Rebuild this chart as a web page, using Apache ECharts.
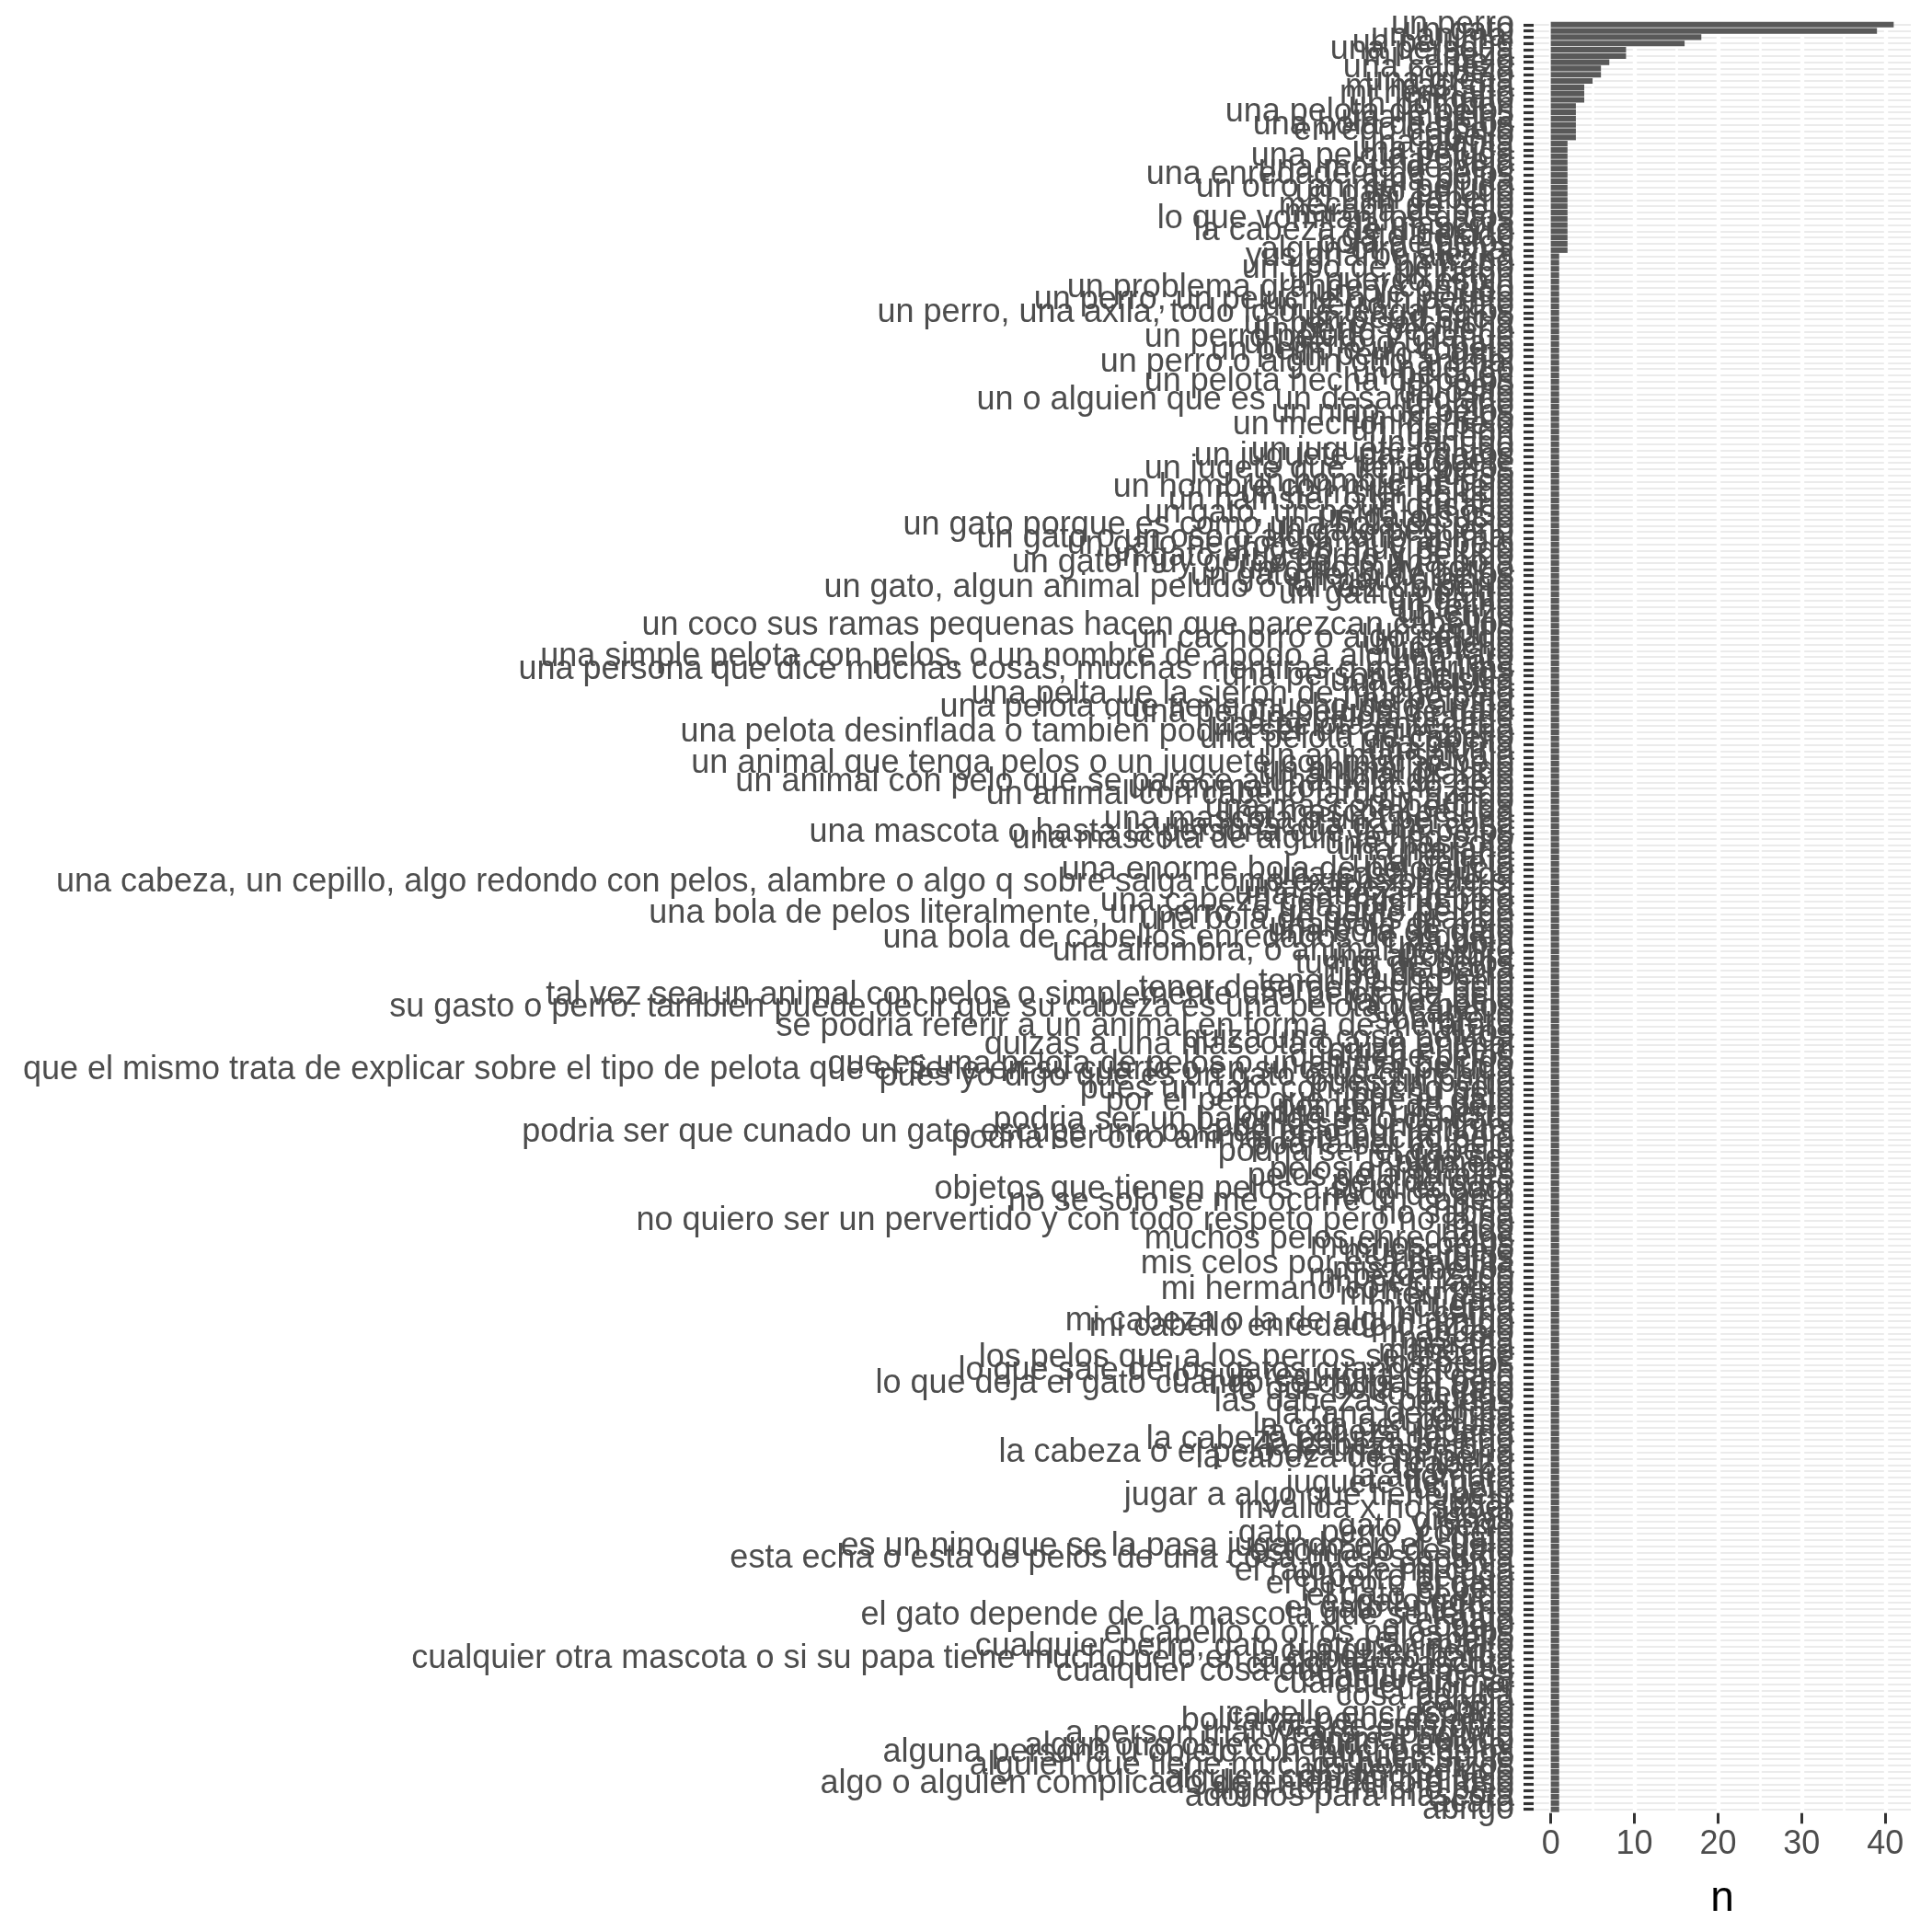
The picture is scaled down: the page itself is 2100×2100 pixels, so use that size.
<!DOCTYPE html>
<html>
<head>
<meta charset="utf-8">
<script src="https://cdn.jsdelivr.net/npm/echarts@6/dist/echarts.min.js"></script>
<style>
html,body{margin:0;padding:0;background:#fff;}
#chart{width:2100px;height:2100px;}
</style>
</head>
<body>
<div id="chart"></div>
<script>
// categories, top to bottom
const categories = [
// 1-10
"un perro","un gato","un animal","un peluche","una persona","mi cabeza","pelo","una cabeza","mi pelo","una grena",
// 11-20
"mi mascota","mi hermano","mi gato","un pompon","una pelota de pelos","una melena","una bola de pelos","enredo de pelo","cabello","una planta",
// 21-30
"una peluca","una pelota peluda","una oveja","una mota de pelo","una enredadera de pelos","una bolita","un otro animal peludo","un gato peludo","mi cabello","mechon de pelo",
// 31-40
"marana de pelo","lo que vomitan los gatos","la mascota","la cabeza de un perro","gato peludo","bola de pelos","algun otro animal","yus gnarbe alexka","un trapo","un tipo de peinado",
// 41-50
"un raton","un puerco espin","un problema grande y confuso","un pie peludo","un perro, un peluche o un perrito","un perro, un gato","un perro, una axila, todo lo que tenga pelos","un perro sucio","un perro salchicha","un perro pequeno",
// 51-60
"un perro peludo y grande","un perro o un gato","un perro o un conejo","un perro o gato","un perro o algun otro animal","un perico","un pelucon","un pelota hecha de pelos","un pelo","un osito",
// 61-70
"un o alguien que es un desarreglado","un nino","un nido de pelos","un muneco","un mechon de pelo","un mechon","un leon","un lanudo","un juguete peludo","un juguete para gatos",
// 71-80
"un juguete","un jugete que tiene pelos","un hueso","un hombre peludo","un hombre con mucho pelo","un hamster peludo","un hamster o un conejo","un gusano","un gato, un perro, un oso","un gato sucio",
// 81-90
"un gato porque es como una bola de pelo","un gato pequeno","un gato o un oso o algun otro animal","un gato negro con mucho pelo","un gato muy peludo","un gato muy gordo y peludo","un gato muy gordo como una bola","un gato muy gordo","un gato lleno de pelos","un gato grande",
// 91-100
"un gato, algun animal peludo o tal vez un perro","un gatito peludo","un gatito","un felino","un erizo","un cojin","un coco sus ramas pequenas hacen que parezcan cabellos","un cepillo","un cachorro o algo peludo","un cabello",
// 101-110
"un bicho","una simple pelota con pelos, o un nombre de apodo a alguien raro","una rata","una persona que dice muchas cosas, muchas mentiras o mentirillas","una persona peluda","una pelusilla","una pelusa","una pelta ue la sieron de mucho pelo","una pelotita","una pelota que tiene mucho pelo arriba",
// 111-120
"una pelota peluda de gato","una pelota grande","una pelota enredada","una pelota desinflada o tambien podria ser un animal feo","una pelota de cabello","una pelota","una nutria","un animal salvaje","un animal que tenga pelos o un juguete con mucho pelo","un animal peludo",
// 121-130
"un animal grande","un animal con pelo que se parece a una bola de pelo","un animal con mucho pelo","un animal con cabello largo y rizado","un amigo","una mascota perdida","una mascota peluda","una mascota o una persona","una mascota o una cosa","una mascota o hasta la persona que tiene pelos",
// 131-140
"una mascota de algun vecino o tio","una mascota","una marana","una lana","una galleta","una enorme bola de pelo sucio","una cosa peluda","una cabeza, un cepillo, algo redondo con pelos, alambre o algo q sobre salga como extension de si","una cabeza rizada","una cabeza peluda",
// 141-150
"una cabeza con mucho pelo","una bola peluda","una bola de pelos literalmente, un perro, o un gatito peludo","una bola de pelos grande","una bola de pelo","una bola de gato","una bola de cabellos enredados de alguien","una bola","una alfombra, o animal peludito","una alfombra",
// 151-160
"tumor de pelos","tu mascota","tipo de perro","tener mucho pelo","tener desorden en el pelo","tal vez sea un animal con pelos o simplemente una pelota de pelo","tal vez pelo","su gasto o perro. tambien puede decir que su cabeza es una pelota de pelos","su cabello","sombrero",
// 161-170
"se podria referir a un animal en forma de metafora","rizos","quiza una cosa peluda","quizas a una mascota o a un animal","quiza el pelo","que tiene pelos","que es una pelota de pelos o un animal peludo","que el mismo trata de explicar sobre el tipo de pelota que el tiene en su cuarto o en su cabeza peluda","pues yo digo que es un gato o un chinchilla","pues un perro",
// 171-180
"pues un gato con mucho pelo","por su pelo","por el pelo que tiene el gato","pompon de pelo","podria ser un perro","podria ser un balon de pelo de gato","podria ser un animal","podria ser que cunado un gato escupe una bola de pelo por la boca","podria ser otro animal con mucho pelo","podria ser mi pelo",
// 181-190
"podria ser el cabello","podria ser","plumero","pelos enredados","pelos de animales","pelo de gato","objetos que tienen pelos a su alrededor","nudo de pelo","no se solo se me ocurre un conejo","no se",
// 191-200
"no sabria","no quiero ser un pervertido y con todo respeto pero no lo se","nido","nada","muchos pelos enredados","muchos pelos","mucho pelo","mis rulos","mis celos por esa pelotita","mis cabellos",
// 201-210
"mi pelo rizado","mi pelo largo","mi hermano con su pelo","mi hermana","mi gata","mi cuerpo","mi cama","mi cabeza o la de algun amigo","mi cabello enredado o rizado","mi abuelo",
// 211-220
"mascota","marana","mapache","los pelos que a los perros se les cae","los pelos","lo que sale de los gatos cuando tosen","lo que regurgita un gato","lo que deja el gato cuando se chupa el pelo","lo que bota un gato","lo peludo",
// 221-230
"las cabezas peludas","la rata","la rana de goma","la pelusa","la cola de un gato","la cabeza rapada","la cabeza peluda de algo","la cabeza pelona","la cabeza o el pelo de una persona","la cabeza de mi perro",
// 231-240
"la cabeza","la barba","la alfombra","juguete de gato","juguete","jugar a algo que tiene pelo","jugar","invalida x no saber","huevo","grenas",
// 241-250
"gato y perro","gato, perro, conejo","gato","es un nino que se la pasa jugando en el suelo","estomago de gato","esta echa o esta de pelos de una cosa que es peluda","esponja","el raton de mi casa","el perro peludo","el perro o el gato",
// 251-260
"el pelo","el gato peludo","el gato gordo","el gato enfermo","el gato depende de la mascota que se tenga","el gato","el conejo","el cabello o otros pelos feos","el cabello","cualquier perro, gato u otro animalito",
// 261-270
"cualquier pelota","cualquier otra mascota o si su papa tiene mucho pelo en la cabeza o barba","cualquier mascota","cualquier cosa que tenga pelos","cualquier cosa","cualquier animal","cualquier","cosa peluda","conejo","cepillo",
// 271-280
"cabello encrespado","bolita de pelos de gato","bola de estambre","a person that wears a long wig","animal peludo","algun otro objeto peludo o animal","alguna persona u objeto con muchos pelos","alguien sucio","alguien que tiene muchos pelos rizos","alguien peludo",
// 281-286
"alguien con mucho pelo","algo o alguien complicado de entender o difuso","algo con mucho pelo","adornos para mascota","acaro","abrigo"
];

// n per category, same order
const counts = [
41,39,18,16,9,9,7,6,6,5,
4,4,4,3,3,3,3,3,3,2,
2,2,2,2,2,2,2,2,2,2,
2,2,2,2,2,2,2,1,1,1,
1,1,1,1,1,1,1,1,1,1, // 41-50
1,1,1,1,1,1,1,1,1,1, // 51-60
1,1,1,1,1,1,1,1,1,1, // 61-70
1,1,1,1,1,1,1,1,1,1, // 71-80
1,1,1,1,1,1,1,1,1,1, // 81-90
1,1,1,1,1,1,1,1,1,1, // 91-100
1,1,1,1,1,1,1,1,1,1, // 101-110
1,1,1,1,1,1,1,1,1,1, // 111-120
1,1,1,1,1,1,1,1,1,1, // 121-130
1,1,1,1,1,1,1,1,1,1, // 131-140
1,1,1,1,1,1,1,1,1,1, // 141-150
1,1,1,1,1,1,1,1,1,1, // 151-160
1,1,1,1,1,1,1,1,1,1, // 161-170
1,1,1,1,1,1,1,1,1,1, // 171-180
1,1,1,1,1,1,1,1,1,1, // 181-190
1,1,1,1,1,1,1,1,1,1, // 191-200
1,1,1,1,1,1,1,1,1,1, // 201-210
1,1,1,1,1,1,1,1,1,1, // 211-220
1,1,1,1,1,1,1,1,1,1, // 221-230
1,1,1,1,1,1,1,1,1,1, // 231-240
1,1,1,1,1,1,1,1,1,1, // 241-250
1,1,1,1,1,1,1,1,1,1, // 251-260
1,1,1,1,1,1,1,1,1,1, // 261-270
1,1,1,1,1,1,1,1,1,1, // 271-280
1,1,1,1,1,1          // 281-286
];

const xTicks = [0, 10, 20, 30, 40];
const xMajorStep = 10;

// layout
const W = 2100, H = 2100;
const FONT = "'Liberation Sans', Arial, Helvetica, sans-serif";
const panelLeft = 1667, panelRight = 2077, panelTop = 22.7, panelBottom = 1970.7;
const xMin = -2.05, xMax = 43.05;
const N = categories.length;
const step = (panelBottom - panelTop) / (N + 0.2);
const barGridTop = panelTop + 0.1 * step;
const barGridHeight = N * step;
const pxPerUnit = (panelRight - panelLeft) / (xMax - xMin);
const x0px = panelLeft + (0 - xMin) * pxPerUnit;
const x40px = panelLeft + (xTicks[xTicks.length - 1] - xMin) * pxPerUnit;

const chart = echarts.init(document.getElementById('chart'), null, {renderer: 'canvas', width: W, height: H});

chart.setOption({
  backgroundColor: '#ffffff',
  animation: false,
  grid: [
    {left: panelLeft, right: W - panelRight, top: barGridTop, height: barGridHeight, containLabel: false},
    {left: x0px, right: W - x40px, top: panelTop, bottom: H - panelBottom, containLabel: false}
  ],
  xAxis: [
    {
      gridIndex: 0, type: 'value', min: xMin, max: xMax,
      axisLine: {show: false, onZero: false}, axisTick: {show: false}, axisLabel: {show: false}, splitLine: {show: false}
    },
    {
      gridIndex: 1, type: 'value', min: xTicks[0], max: xTicks[xTicks.length - 1], interval: xMajorStep, z: 2,
      axisLine: {show: false, onZero: false},
      axisTick: {show: true, length: 11.5, lineStyle: {color: '#333333', width: 3}},
      axisLabel: {show: true, margin: 16, color: '#4D4D4D', fontSize: 36, fontFamily: FONT},
      splitLine: {show: true, lineStyle: {color: '#ffffff', width: 4.4}},
      minorTick: {show: false, splitNumber: 2},
      minorSplitLine: {show: true, lineStyle: {color: '#ffffff', width: 2.7}}
    }
  ],
  yAxis: [
    {
      gridIndex: 0, type: 'category', data: categories, inverse: true, z: 4,
      axisLine: {show: false, onZero: false},
      axisTick: {show: true, alignWithLabel: true, interval: 0, length: 11, lineStyle: {color: '#333333', width: 3.2}},
      axisLabel: {show: true, interval: 0, margin: 21, color: '#4D4D4D', fontSize: 36, fontFamily: FONT},
      splitLine: {show: false}
    },
    {
      gridIndex: 1, type: 'value', show: false, min: 0, max: 1,
      axisLine: {onZero: false},
      splitLine: {show: false}
    }
  ],
  series: [
    {
      type: 'bar', xAxisIndex: 0, yAxisIndex: 0, z: 3,
      data: counts,
      barCategoryGap: '10%',
      itemStyle: {color: '#595959'},
      silent: true,
      markLine: {
        silent: true, z: 1, animation: false,
        symbol: ['none', 'none'],
        label: {show: false},
        lineStyle: {color: '#EBEBEB', width: 2.2, type: 'solid'},
        emphasis: {disabled: true},
        data: categories.map(c => ({yAxis: c}))
      }
    }
  ],
  graphic: [
    {type: 'text', x: (panelLeft + panelRight) / 2, y: 2064, z: 10,
     style: {text: 'n', fontSize: 46, fontFamily: FONT, fill: '#000000', textAlign: 'center', textVerticalAlign: 'middle'}}
  ]
});
</script>
</body>
</html>
